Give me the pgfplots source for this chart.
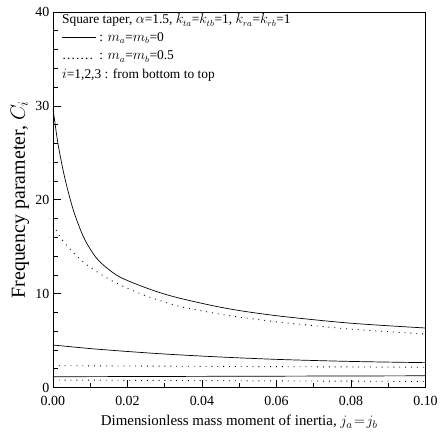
\documentclass[border=0pt]{standalone}
\usepackage{fontspec}
\setmainfont{Liberation Serif}
\usepackage{pgfplots}
\pgfplotsset{compat=1.18}
\begin{document}
\begin{tikzpicture}
\begin{axis}[
 scale only axis, width=373bp, height=376bp,
 xmin=0, xmax=0.1, ymin=0, ymax=40,
 xtick={0,0.02,0.04,0.06,0.08,0.1},
 ytick={0,10,20,30,40},
 minor x tick num=1, minor y tick num=4,
 tick align=inside, xtick pos=bottom, ytick pos=left,
 major tick length=8bp, minor tick length=5bp,
 tick style={black, line width=0.6pt},
 axis line style={line width=0.8pt},
 scaled x ticks=false,
 xticklabel style={yshift=-5bp, /pgf/number format/fixed,/pgf/number format/fixed zerofill,/pgf/number format/precision=2},
 /pgf/number format/assume math mode=true,
 ticklabel style={font=\fontsize{14}{16}\selectfont},
 xlabel={Dimensionless mass moment of inertia, $j_a\!=\!j_b$},
 ylabel={Frequency parameter, $C_i$},
 xlabel style={at={(axis description cs:0.5,-0.092)}, anchor=center, font=\fontsize{15}{17}\selectfont},
 ylabel style={at={(axis description cs:-0.0885,0.5)}, anchor=center, font=\fontsize{20}{22}\selectfont},
]
% mode 3, m=0 (solid)
\addplot[black, line width=0.7pt, smooth, tension=0.5] coordinates {
(0,29.7) (0.0004,28.6) (0.00134,26.0) (0.0027,23.2) (0.004,21.0) (0.0058,18.5) (0.0085,15.8)
(0.0121,13.6) (0.0174,11.9) (0.0241,10.75) (0.03,9.95) (0.035,9.42) (0.0429,8.72) (0.05,8.2)
(0.06,7.65) (0.0708,7.19) (0.08,6.85) (0.09,6.58) (0.1,6.34)};
% mode 3, m=0.5 (dotted)
\addplot[black, line width=0.9pt, dash pattern=on 0.9pt off 5pt, smooth, tension=0.5] coordinates {
(0,17.3) (0.0005,17.0) (0.0031,15.4) (0.0085,13.25) (0.0157,11.4) (0.0237,9.95) (0.03,9.1)
(0.035,8.55) (0.043,7.95) (0.05,7.5) (0.06,7.0) (0.071,6.55) (0.08,6.22) (0.09,5.95) (0.1,5.7)};
% mode 2
\addplot[black, line width=0.7pt, smooth, tension=0.5] coordinates {
(0,4.53) (0.01,4.15) (0.02,3.84) (0.03,3.57) (0.04,3.35) (0.05,3.16) (0.06,3.0)
(0.07,2.88) (0.08,2.78) (0.09,2.71) (0.1,2.65)};
\addplot[black, line width=0.9pt, dash pattern=on 0.9pt off 5pt] coordinates {
(0,2.33) (0.05,2.24) (0.1,2.16)};
% mode 1
\addplot[black, line width=0.7pt] coordinates {(0,1.15) (0.05,1.2) (0.1,1.25)};
\addplot[black, line width=0.9pt, dash pattern=on 0.9pt off 5pt] coordinates {(0,0.8) (0.05,0.72) (0.1,0.65)};
% annotation text
\node[anchor=west, inner sep=0pt, font=\fontsize{13.5}{15}\selectfont] at (axis cs:0.0024,39.1)
 {Square taper, $\alpha$=1.5, $k_{ta}$=$k_{tb}$=1, $k_{ra}$=$k_{rb}$=1};
\node[anchor=west, inner sep=0pt, font=\fontsize{13.5}{15}\selectfont] at (axis cs:0.0024,37.2)
 {\rule[0.3em]{34bp}{0.6pt} : $m_a$=$m_b$=0};
\node[anchor=west, inner sep=0pt, font=\fontsize{13.5}{15}\selectfont] at (axis cs:0.0024,35.25)
 {\leaders\hbox to 4.5bp{\hss.\hss}\hskip 34bp\relax{} : $m_a$=$m_b$=0.5};
\node[anchor=west, inner sep=0pt, font=\fontsize{13.5}{15}\selectfont] at (axis cs:0.0024,33.3)
 {$i$=1,2,3 : from bottom to top};
\end{axis}
\path ([xshift=-53bp,yshift=-50bp]current axis.south west) rectangle ([xshift=15bp,yshift=12bp]current axis.north east);
\end{tikzpicture}
\end{document}
